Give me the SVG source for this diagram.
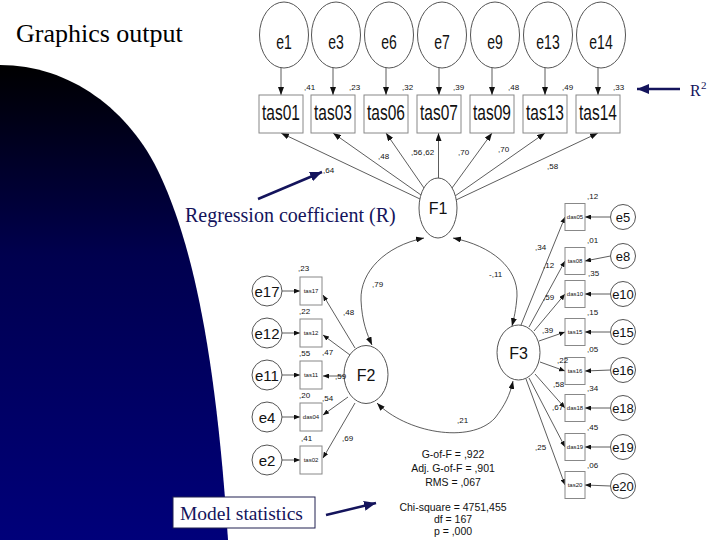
<svg xmlns="http://www.w3.org/2000/svg" width="720" height="540" viewBox="0 0 720 540">
<defs>
<linearGradient id="navyGrad" gradientUnits="userSpaceOnUse" x1="0" y1="65" x2="0" y2="540">
<stop offset="0" stop-color="#000000"/>
<stop offset="0.4" stop-color="#00004e"/>
<stop offset="1" stop-color="#00007a"/>
</linearGradient>
<marker id="ah" viewBox="0 0 8 6" refX="8" refY="3" markerWidth="8" markerHeight="6" markerUnits="userSpaceOnUse" orient="auto-start-reverse"><path d="M0,0 L8,3 L0,6 Z" fill="#111"/></marker>
<marker id="ahs" viewBox="0 0 6 5" refX="6" refY="2.5" markerWidth="6" markerHeight="5" markerUnits="userSpaceOnUse" orient="auto-start-reverse"><path d="M0,0 L6,2.5 L0,5 Z" fill="#111"/></marker>
<marker id="nav" viewBox="0 0 12 10" refX="12" refY="5" markerWidth="12" markerHeight="10" markerUnits="userSpaceOnUse" orient="auto"><path d="M0,0 L12,5 L0,10 Z" fill="#14145c"/></marker>
</defs>
<style>
.lat{fill:#fff;stroke:#555;stroke-width:1}
.box{fill:#fff;stroke:#888;stroke-width:1}
.t{font-family:"Liberation Sans",Arial,sans-serif;fill:#111;text-anchor:middle}
.tb{font-size:15.5px}
.te{font-size:14px}
.tf{font-size:16px}
.tl{font-size:15px}
.tr{font-size:13px}
.ts{font-size:6px}
.n{font-family:"Liberation Sans",Arial,sans-serif;font-size:8px;fill:#111}
.ca{fill:none;stroke:#333;stroke-width:0.8;marker-end:url(#ah)}
.cs{fill:none;stroke:#333;stroke-width:0.8;marker-end:url(#ahs)}
.cb{fill:none;stroke:#333;stroke-width:0.8;marker-start:url(#ah);marker-end:url(#ah)}
.ar{fill:none;stroke:#14145c;stroke-width:2.5;marker-end:url(#nav)}
.serif{font-family:"Liberation Serif","Times New Roman",serif}
.st{font-family:"Liberation Sans",Arial,sans-serif;font-size:10.5px;fill:#111;text-anchor:middle}
</style>
<rect width="720" height="540" fill="#fff"/>
<path d="M0,65 C70,65 130,110 160,175 C190,240 215,340 228,540 L0,540 Z" fill="url(#navyGrad)"/>
<text class="serif" x="16" y="42" font-size="26" fill="#000">Graphics output</text>

<g id="connectors">
<line class="ca" x1="281" y1="68" x2="281" y2="95"/>
<line class="ca" x1="333" y1="68" x2="333" y2="95"/>
<line class="ca" x1="386" y1="68" x2="386" y2="95"/>
<line class="ca" x1="439" y1="68" x2="439" y2="95"/>
<line class="ca" x1="492" y1="68" x2="492" y2="95"/>
<line class="ca" x1="545" y1="68" x2="545" y2="95"/>
<line class="ca" x1="598" y1="68" x2="598" y2="95"/>
<line class="ca" x1="420" y1="199" x2="281" y2="133"/>
<line class="ca" x1="421" y1="195" x2="333" y2="133"/>
<line class="ca" x1="424" y1="188" x2="386" y2="133"/>
<line class="ca" x1="438.5" y1="178" x2="438.5" y2="133"/>
<line class="ca" x1="452" y1="188" x2="492" y2="133"/>
<line class="ca" x1="455" y1="196" x2="545" y2="133"/>
<line class="ca" x1="456" y1="200" x2="598" y2="133"/>
<path class="cb" d="M424,238 C385,246 360,272 361,300 C362,322 367,334 372,345"/>
<path class="cb" d="M453,238 C492,246 518,268 517,296 C516,310 514,318 512,326"/>
<path class="cb" d="M377,403 C405,432 470,445 495,418 C505,405 510,395 513,381"/>
<line class="cs" x1="355" y1="348" x2="323" y2="295"/>
<line class="cs" x1="350" y1="355" x2="323" y2="335"/>
<line class="cs" x1="344" y1="376" x2="323" y2="376"/>
<line class="cs" x1="348" y1="397" x2="323" y2="415"/>
<line class="cs" x1="355" y1="403" x2="323" y2="458"/>
<line class="cs" x1="282" y1="291" x2="300" y2="291"/>
<line class="cs" x1="282" y1="333" x2="300" y2="333"/>
<line class="cs" x1="282" y1="375" x2="300" y2="375"/>
<line class="cs" x1="282" y1="417" x2="300" y2="417"/>
<line class="cs" x1="282" y1="460" x2="300" y2="460"/>
<line class="cs" x1="521" y1="325" x2="565" y2="217"/>
<line class="cs" x1="529" y1="327" x2="565" y2="261"/>
<line class="cs" x1="534" y1="331" x2="565" y2="294"/>
<line class="cs" x1="539" y1="341" x2="565" y2="332"/>
<line class="cs" x1="540" y1="362" x2="565" y2="371"/>
<line class="cs" x1="535" y1="374" x2="565" y2="408"/>
<line class="cs" x1="529" y1="378" x2="565" y2="447"/>
<line class="cs" x1="526" y1="379" x2="565" y2="485"/>
<line class="cs" x1="610.5" y1="217" x2="585" y2="217"/>
<line class="cs" x1="610.5" y1="256" x2="585" y2="261"/>
<line class="cs" x1="610.5" y1="294" x2="585" y2="294"/>
<line class="cs" x1="610.5" y1="332" x2="585" y2="332"/>
<line class="cs" x1="610.5" y1="370" x2="585" y2="371"/>
<line class="cs" x1="610.5" y1="408" x2="585" y2="408"/>
<line class="cs" x1="610.5" y1="447" x2="585" y2="447"/>
<line class="cs" x1="610.5" y1="486" x2="585" y2="485"/>
</g>

<g id="e1"><ellipse class="lat" cx="284" cy="35" rx="24.5" ry="33"/><text class="t te" transform="translate(284,49) scale(1,1.45)">e1</text></g>
<g id="e3"><ellipse class="lat" cx="336" cy="35" rx="24.5" ry="33"/><text class="t te" transform="translate(336,49) scale(1,1.45)">e3</text></g>
<g id="e6"><ellipse class="lat" cx="389" cy="35" rx="24.5" ry="33"/><text class="t te" transform="translate(389,49) scale(1,1.45)">e6</text></g>
<g id="e7"><ellipse class="lat" cx="442" cy="35" rx="24.5" ry="33"/><text class="t te" transform="translate(442,49) scale(1,1.45)">e7</text></g>
<g id="e9"><ellipse class="lat" cx="495" cy="35" rx="24.5" ry="33"/><text class="t te" transform="translate(495,49) scale(1,1.45)">e9</text></g>
<g id="e13"><ellipse class="lat" cx="548" cy="35" rx="24.5" ry="33"/><text class="t te" transform="translate(548,49) scale(1,1.45)">e13</text></g>
<g id="e14"><ellipse class="lat" cx="601" cy="35" rx="24.5" ry="33"/><text class="t te" transform="translate(601,49) scale(1,1.45)">e14</text></g>

<g id="tas01"><rect class="box" x="259" y="95" width="44" height="38"/><text class="t tb" transform="translate(281,120) scale(1,1.45)">tas01</text></g>
<g id="tas03"><rect class="box" x="311" y="95" width="44" height="38"/><text class="t tb" transform="translate(333,120) scale(1,1.45)">tas03</text></g>
<g id="tas06"><rect class="box" x="364" y="95" width="44" height="38"/><text class="t tb" transform="translate(386,120) scale(1,1.45)">tas06</text></g>
<g id="tas07"><rect class="box" x="417" y="95" width="44" height="38"/><text class="t tb" transform="translate(439,120) scale(1,1.45)">tas07</text></g>
<g id="tas09"><rect class="box" x="470" y="95" width="44" height="38"/><text class="t tb" transform="translate(492,120) scale(1,1.45)">tas09</text></g>
<g id="tas13"><rect class="box" x="523" y="95" width="44" height="38"/><text class="t tb" transform="translate(545,120) scale(1,1.45)">tas13</text></g>
<g id="tas14"><rect class="box" x="576" y="95" width="44" height="38"/><text class="t tb" transform="translate(598,120) scale(1,1.45)">tas14</text></g>

<g id="F1"><ellipse class="lat" cx="438" cy="208" rx="19" ry="30"/><text class="t tf" x="438" y="214">F1</text></g>
<g id="F2"><ellipse class="lat" cx="366" cy="374.5" rx="22" ry="29"/><text class="t tf" x="366" y="380.5">F2</text></g>
<g id="F3"><ellipse class="lat" cx="518.5" cy="352.5" rx="21.5" ry="27.5"/><text class="t tf" x="518.5" y="358.5">F3</text></g>

<g id="e17"><circle class="lat" cx="267" cy="291" r="15"/><text class="t tl" x="267" y="296.5">e17</text></g>
<g id="e12"><circle class="lat" cx="267" cy="333" r="15"/><text class="t tl" x="267" y="338.5">e12</text></g>
<g id="e11"><circle class="lat" cx="267" cy="375" r="15"/><text class="t tl" x="267" y="380.5">e11</text></g>
<g id="e4"><circle class="lat" cx="267" cy="417" r="15"/><text class="t tl" x="267" y="422.5">e4</text></g>
<g id="e2"><circle class="lat" cx="267" cy="460" r="15"/><text class="t tl" x="267" y="465.5">e2</text></g>

<g id="tas17"><rect class="box" x="300" y="277" width="22" height="28"/><text class="t ts" x="311" y="293">tas17</text></g>
<g id="tas12"><rect class="box" x="300" y="319" width="22" height="28"/><text class="t ts" x="311" y="335">tas12</text></g>
<g id="tas11"><rect class="box" x="300" y="361" width="22" height="28"/><text class="t ts" x="311" y="377">tas11</text></g>
<g id="das04"><rect class="box" x="300" y="403" width="22" height="28"/><text class="t ts" x="311" y="419">das04</text></g>
<g id="tas02"><rect class="box" x="300" y="446" width="22" height="28"/><text class="t ts" x="311" y="462">tas02</text></g>

<g id="das05"><rect class="box" x="565" y="203.5" width="20" height="27"/><text class="t ts" x="575" y="219">das05</text></g>
<g id="tas08"><rect class="box" x="565" y="247.5" width="20" height="27"/><text class="t ts" x="575" y="263">tas08</text></g>
<g id="das10"><rect class="box" x="565" y="280.5" width="20" height="27"/><text class="t ts" x="575" y="296">das10</text></g>
<g id="tas15"><rect class="box" x="565" y="318.5" width="20" height="27"/><text class="t ts" x="575" y="334">tas15</text></g>
<g id="tas16"><rect class="box" x="565" y="357.5" width="20" height="27"/><text class="t ts" x="575" y="373">tas16</text></g>
<g id="das18"><rect class="box" x="565" y="394.5" width="20" height="27"/><text class="t ts" x="575" y="410">das18</text></g>
<g id="das19"><rect class="box" x="565" y="433.5" width="20" height="27"/><text class="t ts" x="575" y="449">das19</text></g>
<g id="tas20"><rect class="box" x="565" y="471.5" width="20" height="27"/><text class="t ts" x="575" y="487">tas20</text></g>

<g id="e5"><circle class="lat" cx="623" cy="217" r="12.5"/><text class="t tr" x="623" y="221.5">e5</text></g>
<g id="e8"><circle class="lat" cx="623" cy="256" r="12.5"/><text class="t tr" x="623" y="260.5">e8</text></g>
<g id="e10"><circle class="lat" cx="623" cy="294" r="12.5"/><text class="t tr" x="623" y="298.5">e10</text></g>
<g id="e15"><circle class="lat" cx="623" cy="332" r="12.5"/><text class="t tr" x="623" y="336.5">e15</text></g>
<g id="e16"><circle class="lat" cx="623" cy="370" r="12.5"/><text class="t tr" x="623" y="374.5">e16</text></g>
<g id="e18"><circle class="lat" cx="623" cy="408" r="12.5"/><text class="t tr" x="623" y="412.5">e18</text></g>
<g id="e19"><circle class="lat" cx="623" cy="447" r="12.5"/><text class="t tr" x="623" y="451.5">e19</text></g>
<g id="e20"><circle class="lat" cx="623" cy="486" r="12.5"/><text class="t tr" x="623" y="490.5">e20</text></g>

<g id="labels">
<text class="n" x="304" y="90">,41</text>
<text class="n" x="349" y="90">,23</text>
<text class="n" x="402" y="90">,32</text>
<text class="n" x="453" y="90">,39</text>
<text class="n" x="508" y="90">,48</text>
<text class="n" x="562" y="90">,49</text>
<text class="n" x="613" y="90">,33</text>
<text class="n" x="323" y="173">,64</text>
<text class="n" x="378" y="159">,48</text>
<text class="n" x="411" y="155">,56</text>
<text class="n" x="423" y="155">,62</text>
<text class="n" x="458" y="155">,70</text>
<text class="n" x="498" y="152">,70</text>
<text class="n" x="547" y="169">,58</text>
<text class="n" x="587" y="199">,12</text>
<text class="n" x="587" y="243">,01</text>
<text class="n" x="535" y="250">,34</text>
<text class="n" x="543" y="268">,12</text>
<text class="n" x="588" y="276">,35</text>
<text class="n" x="543" y="300">,59</text>
<text class="n" x="587" y="315">,15</text>
<text class="n" x="542" y="333">,39</text>
<text class="n" x="587" y="352">,05</text>
<text class="n" x="557" y="363">,22</text>
<text class="n" x="553" y="387">,58</text>
<text class="n" x="587" y="391">,34</text>
<text class="n" x="552" y="410">,67</text>
<text class="n" x="587" y="430">,45</text>
<text class="n" x="535" y="450">,25</text>
<text class="n" x="587" y="468">,06</text>
<text class="n" x="298" y="271">,23</text>
<text class="n" x="299" y="314">,22</text>
<text class="n" x="299" y="356">,55</text>
<text class="n" x="322" y="355">,47</text>
<text class="n" x="335" y="379">,59</text>
<text class="n" x="299" y="398">,20</text>
<text class="n" x="322" y="401">,54</text>
<text class="n" x="301" y="441">,41</text>
<text class="n" x="343" y="315">,48</text>
<text class="n" x="342" y="441">,69</text>
<text class="n" x="372" y="287">,79</text>
<text class="n" x="489" y="277">-,11</text>
<text class="n" x="457" y="423">,21</text>
</g>

<g id="stats">
<text class="st" x="453" y="458">G-of-F = ,922</text>
<text class="st" x="453" y="472">Adj. G-of-F = ,901</text>
<text class="st" x="453" y="486">RMS = ,067</text>
<text class="st" x="453" y="511">Chi-square = 4751,455</text>
<text class="st" x="453" y="523">df = 167</text>
<text class="st" x="453" y="535">p = ,000</text>
</g>

<g id="annotations">
<text class="serif" x="185" y="222" font-size="20" fill="#14145c">Regression coefficient (R)</text>
<line class="ar" x1="258" y1="199" x2="322" y2="172"/>
<text class="serif" x="690" y="96" font-size="16" fill="#14145c">R</text>
<text class="serif" x="701" y="89" font-size="11" fill="#14145c">2</text>
<line class="ar" x1="680" y1="89" x2="637" y2="89"/>
<rect x="173" y="497" width="142" height="31" fill="#fff" stroke="#202050" stroke-width="1"/>
<text class="serif" x="180" y="520" font-size="19.5" fill="#14145c">Model statistics</text>
<line class="ar" x1="326" y1="515" x2="376" y2="503"/>
</g>
</svg>
